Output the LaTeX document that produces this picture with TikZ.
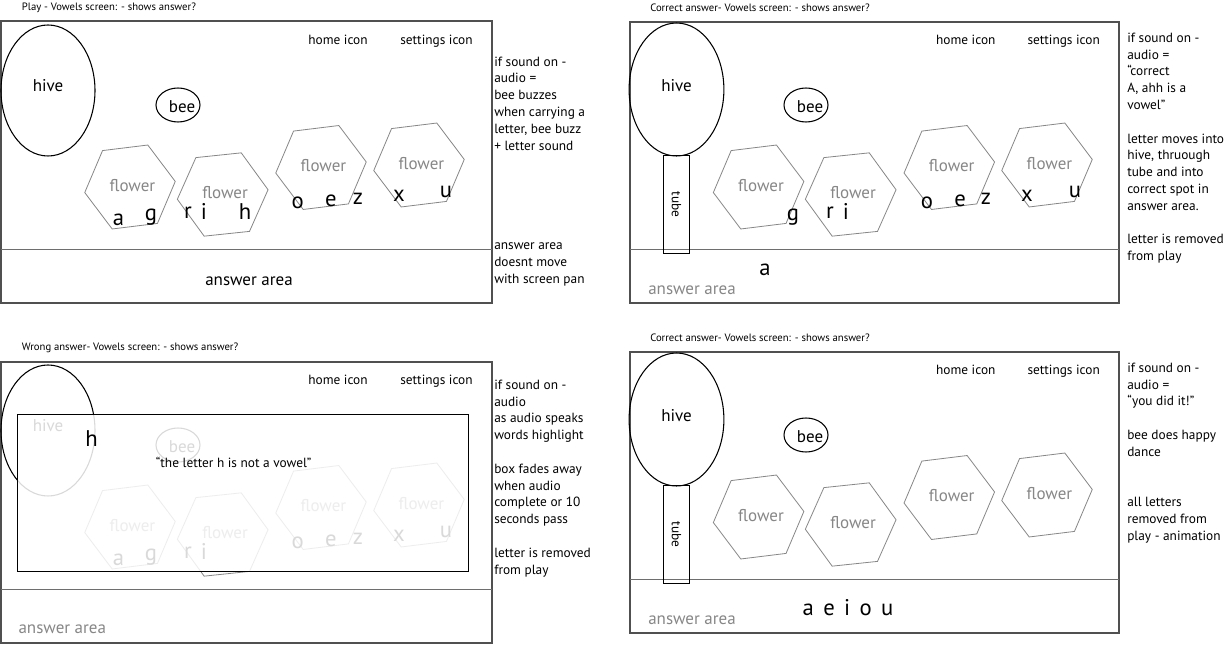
\documentclass[tikz,border=0pt]{standalone}
\usepackage{fontspec}
\setmainfont{PT Sans}
\usetikzlibrary{positioning,calc,shapes.geometric}
\definecolor{ink}{RGB}{0,0,0}
\definecolor{frame}{RGB}{80,80,80}
\definecolor{rule}{RGB}{110,110,110}
\definecolor{petal}{RGB}{135,135,135}
\tikzset{
  screen/.style={draw=frame, line width=1.1pt},
  divider/.style={draw=rule, line width=1.1pt},
  hivebox/.style={ellipse, draw=ink, line width=0.8pt, inner sep=0pt, minimum width=#1},
  beebox/.style={ellipse, draw=ink, line width=0.8pt, inner sep=0pt, minimum width=33pt, minimum height=25.5pt},
  tubebox/.style={rectangle, draw=ink, line width=0.8pt, inner sep=0pt, minimum width=73.5pt, minimum height=19.2pt, rotate=-90, font=\fontsize{10}{12}\selectfont},
  hexa/.style={regular polygon, regular polygon sides=6, draw=petal, line width=0.6pt, inner sep=0pt, minimum size=68.4pt},
  petal/.style={font=\fontsize{12.75}{14}\selectfont, text=petal, inner sep=0pt},
  big/.style={font=\fontsize{12.75}{14}\selectfont, text=ink, inner sep=0pt},
  letter/.style={font=\fontsize{17}{17}\selectfont, text=ink, inner sep=0pt},
  icon/.style={font=\fontsize{10}{12}\selectfont, inner sep=0pt},
  note/.style={font=\fontsize{10}{12.6}\selectfont, align=left, anchor=north west, inner sep=0pt},
  title/.style={font=\fontsize{8}{10}\selectfont, anchor=west, inner sep=0pt},
  dialog/.style={draw=ink, line width=0.7pt},
}
\newcommand{\Flower}[3]{%
  \node[hexa, rotate=#3] (#1) at #2 {};
  \node[petal, xshift=1.8pt, yshift=1.1pt] (#1t) at (#1.center) {flower};
}
\newcommand{\Icons}[3]{%
  \node[icon] (#1home) at #2 {home icon};
  \node[icon] (#1set) at #3 {settings icon};
}

\begin{document}
\begin{tikzpicture}[x=0.75pt,y=-0.75pt]
  \useasboundingbox (0,0) rectangle (1229,645);
  \fill[white] (0,0) rectangle (1229,645);

  % Play screen
  \node[title] (p1title) at (21.7,7.5) {Play - Vowels screen: - shows answer?};
  \draw[screen] (1,21) rectangle (492,303);
  \draw[divider] (1,249.5) -- (492,249.5);
  \node[hivebox=70.5pt, minimum height=98.25pt] (p1hive) at (48,90.5) {};
  \node[big] (p1hivet) at (48,86) {hive};
  \node[beebox] (p1bee) at (178,105) {};
  \node[big] (p1beet) at (182,107) {bee};
  \Icons{p1}{(338,40)}{(436.5,41)}
  \Flower{p1fa}{(130,187)}{7}
  \Flower{p1fb}{(222.7,194.5)}{6}
  \Flower{p1fc}{(321,167.5)}{7}
  \Flower{p1fd}{(419,165)}{7}
  \node[letter] (p1a) at (118.6,220) {a}; \node[letter] (p1g) at (151,217) {g};
  \node[letter] (p1r) at (188,213) {r};   \node[letter] (p1i) at (204,211) {i};
  \node[letter] (p1h) at (245,212) {h};   \node[letter] (p1o) at (297.6,203) {o};
  \node[letter] (p1e) at (331,201) {e};   \node[letter] (p1z) at (358,199) {z};
  \node[letter] (p1x) at (399,196) {x};   \node[letter] (p1u) at (446,192) {u};
  \node[big] (p1ans) at (249,281) {answer area};
  \node[note] (p1note) at (494,56.4) {if sound on -\\audio =\\bee buzzes\\when carrying a\\letter, bee buzz\\+ letter sound};
  \node[note] (p1pan) at (494,242.5) {answer area\\doesnt move\\with screen pan};

  % Correct answer screen
  \node[title] (p2title) at (650,8) {Correct answer- Vowels screen: - shows answer?};
  \draw[screen] (630,22) rectangle (1119,303);
  \draw[divider] (630,249.3) -- (1119,249.3);
  \node[hivebox=71.1pt, minimum height=99.75pt] (p2hive) at (676.5,89.5) {};
  \node[big] (p2hivet) at (676.5,86) {hive};
  \node[tubebox] (p2tube) at (676.5,204.5) {tube};
  \node[beebox] (p2bee) at (806,105) {};
  \node[big] (p2beet) at (810,107) {bee};
  \Icons{p2}{(965.8,40)}{(1063.7,41)}
  \Flower{p2fa}{(758.6,187)}{7}
  \Flower{p2fb}{(850.7,194.5)}{6}
  \Flower{p2fc}{(949.3,167.5)}{7}
  \Flower{p2fd}{(1047,165)}{7}
  \node[letter] (p2g) at (793,217) {g}; \node[letter] (p2r) at (830,213) {r};
  \node[letter] (p2i) at (846,211) {i}; \node[letter] (p2o) at (927,203) {o};
  \node[letter] (p2e) at (960,201) {e}; \node[letter] (p2z) at (986,199) {z};
  \node[letter] (p2x) at (1027,196) {x}; \node[letter] (p2u) at (1075,192) {u};
  \node[letter] (p2a) at (765,270) {a};
  \node[petal, anchor=west] (p2ans) at (648,290) {answer area};
  \node[note] (p2note) at (1127,32.5) {if sound on -\\audio =\\“correct\\A, ahh is a\\vowel”\\[12.6pt]letter moves into\\hive, thruough\\tube and into\\correct spot in\\answer area.\\[12.6pt]letter is removed\\from play};

  % Wrong answer screen
  \begin{scope}[shift={(0,340)}]
    \node[title] (p3title) at (21.7,8) {Wrong answer- Vowels screen: - shows answer?};
    \draw[screen] (1,22) rectangle (492,303);
    \draw[divider] (1,249.5) -- (492,249.5);
    \node[hivebox=70.5pt, minimum height=98.25pt] (p3hive) at (48,90.5) {};
    \node[big] (p3hivet) at (48,86) {hive};
    \node[beebox] (p3bee) at (178,105) {};
    \node[big] (p3beet) at (182,107) {bee};
    \Icons{p3}{(338,40)}{(436.5,41)}
    \Flower{p3fa}{(130,187)}{7}
    \Flower{p3fb}{(222.7,194.5)}{6}
    \Flower{p3fc}{(321,167.5)}{7}
    \Flower{p3fd}{(419,165)}{7}
    \node[letter] (p3a) at (118.6,220) {a}; \node[letter] (p3g) at (151,217) {g};
    \node[letter] (p3r) at (188,213) {r};   \node[letter] (p3i) at (204,211) {i};
    \node[letter] (p3o) at (297.6,203) {o}; \node[letter] (p3e) at (331,201) {e};
    \node[letter] (p3z) at (358,199) {z};   \node[letter] (p3x) at (399,196) {x};
    \node[letter] (p3u) at (446,192) {u};
    \node[petal, anchor=west] (p3ans) at (18.3,289) {answer area};
    % message box over the play area
    \fill[white, opacity=0.85] (17,74) rectangle (468,231.5);
    \draw[dialog] (17,74) rectangle (468,231.5);
    \node[letter] (p3h) at (91.5,98.7) {h};
    \node[icon] (p3msg) at (233.7,122) {“the letter h is not a vowel”};
    \node[note] (p3note) at (494,39.5) {if sound on -\\audio\\as audio speaks\\words highlight\\[12.6pt]box fades away\\when audio\\complete or 10\\seconds pass\\[12.6pt]letter is removed\\from play};
  \end{scope}

  % Finished screen
  \begin{scope}[shift={(0,330)}]
    \node[title] (p4title) at (650,8) {Correct answer- Vowels screen: - shows answer?};
    \draw[screen] (630,22) rectangle (1119,303);
    \draw[divider] (630,249.3) -- (1119,249.3);
    \node[hivebox=71.1pt, minimum height=99.75pt] (p4hive) at (676.5,89.5) {};
    \node[big] (p4hivet) at (676.5,86) {hive};
    \node[tubebox] (p4tube) at (676.5,204.5) {tube};
    \node[beebox] (p4bee) at (806,105) {};
    \node[big] (p4beet) at (810,107) {bee};
    \Icons{p4}{(965.8,40)}{(1063.7,41)}
    \Flower{p4fa}{(758.6,187)}{7}
    \Flower{p4fb}{(850.7,194.5)}{6}
    \Flower{p4fc}{(949.3,167.5)}{7}
    \Flower{p4fd}{(1047,165)}{7}
    \node[letter] (p4vow) at (848,278) {a\hspace{7pt}e\hspace{7pt}i\hspace{7pt}o\hspace{7pt}u};
    \node[petal, anchor=west] (p4ans) at (648,290) {answer area};
    \node[note] (p4note) at (1127,32.5) {if sound on -\\audio =\\“you did it!”\\[12.6pt]bee does happy\\dance\\[25.2pt]all letters\\removed from\\play - animation};
  \end{scope}
\end{tikzpicture}
\end{document}
